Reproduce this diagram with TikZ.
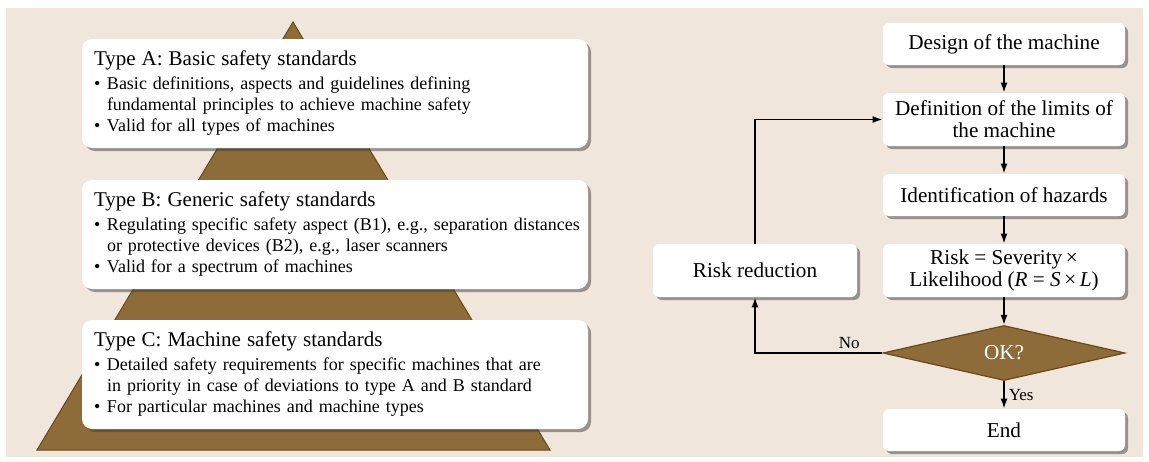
\documentclass[tikz,border=0pt]{standalone}
\usepackage{fontspec}
\setmainfont{Liberation Serif}
\usepackage{xcolor}
\usetikzlibrary{arrows.meta,shapes.geometric,shadows,positioning}

\definecolor{bgbeige}{RGB}{241,230,220}
\definecolor{pyrbrown}{RGB}{142,108,58}
\definecolor{pyredge}{RGB}{105,72,25}

\newcommand{\stdhead}[1]{{\fontsize{10.5}{12}\selectfont #1}}
\newcommand{\stditem}{\makebox[6.5pt][l]{\textbullet}}
\newcommand{\stdcont}{\hspace*{6.5pt}}

\begin{document}
\begin{tikzpicture}[x=0.5pt,y=-0.5pt,
  boxshadow/.style={drop shadow={shadow xshift=1.5pt,shadow yshift=-1.5pt,opacity=0.5,fill=black!75}},
  stdbox/.style={rectangle,fill=white,rounded corners=5pt,boxshadow,minimum width=253pt,minimum height=54.5pt,text width=241pt,inner xsep=6pt,inner ysep=1pt,align=left,font=\fontsize{9}{10.5}\selectfont},
  stepbox/.style={rectangle,fill=white,rounded corners=3pt,boxshadow,minimum width=121pt,minimum height=21pt,inner sep=1pt,align=center,font=\fontsize{10.6}{11}\selectfont},
  decision/.style={diamond,fill=pyrbrown,draw=pyredge,line width=0.6pt,minimum width=121pt,minimum height=27.5pt,inner sep=0pt,text=white,font=\fontsize{10.6}{12}\selectfont},
  flow/.style={->,>={Latex[length=5pt,width=3.5pt]},line width=0.8pt},
  flowlabel/.style={font=\fontsize{8.5}{10}\selectfont,inner sep=2pt}]

% background
\fill[white] (0,0) rectangle (1149,461);
\fill[bgbeige] (6,8) rectangle (1143,457);
\useasboundingbox (0,0) rectangle (1149,461);

% pyramid of standards
\draw[fill=pyrbrown,draw=pyredge,line width=0.5pt] (293,22) -- (550,450) -- (37,450) -- cycle;

\node[stdbox] (typea) at (335,93.5) {\stdhead{Type A: Basic safety standards}\\[1.5pt]
  \stditem Basic definitions, aspects and guidelines defining\\
  \stdcont fundamental principles to achieve machine safety\\
  \stditem Valid for all types of machines};
\node[stdbox] (typeb) at (335,234.5) {\stdhead{Type B: Generic safety standards}\\[1.5pt]
  \stditem\mbox{Regulating specific safety aspect (B1), e.g., separation distances}\\
  \stdcont or protective devices (B2), e.g., laser scanners\\
  \stditem Valid for a spectrum of machines};
\node[stdbox] (typec) at (335,374.5) {\stdhead{Type C: Machine safety standards}\\[1.5pt]
  \stditem Detailed safety requirements for specific machines that are\\
  \stdcont in priority in case of deviations to type A and B standard\\
  \stditem For particular machines and machine types};

% risk assessment flow
\node[stepbox] (design) at (1004,44) {Design of the machine};
\node[stepbox,minimum height=26.5pt] (limits) at (1004,119.5) {Definition of the limits of\\the machine};
\node[stepbox] (hazards) at (1004,195) {Identification of hazards};
\node[stepbox,minimum height=26.5pt] (risk) at (1004,270.5) {Risk = Severity\,×\\Likelihood (\textit{R} = \textit{S}\,×\,\textit{L})};
\node[decision] (ok) at (1004,353) {OK?};
\node[stepbox] (finish) at (1004,430) {End};
\node[stepbox,minimum width=102pt,minimum height=26.5pt] (reduce) at (755,270.5) {Risk reduction};

\draw[flow] (design) -- (limits);
\draw[flow] (limits) -- (hazards);
\draw[flow] (hazards) -- (risk);
\draw[flow] (risk) -- (ok);
\draw[flow] (ok) -- node[flowlabel,right]{Yes} (finish);
\draw[flow] (ok.west) -- node[flowlabel,above,pos=0.26]{No} (reduce.south |- ok.west) -- (reduce.south);
\draw[flow] (reduce.north) |- (limits.west);
\end{tikzpicture}
\end{document}
